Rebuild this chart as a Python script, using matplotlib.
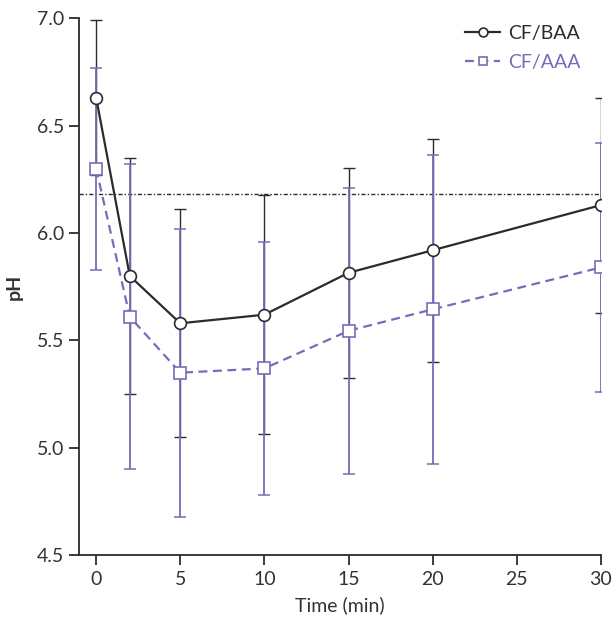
import matplotlib.pyplot as plt
import numpy as np

time = [0, 2, 5, 10, 15, 20, 30]
baa_mean = [6.63, 5.80, 5.58, 5.62, 5.815, 5.92, 6.13]
baa_sd = [0.36, 0.55, 0.53, 0.555, 0.49, 0.52, 0.50]
aaa_mean = [6.30, 5.61, 5.35, 5.37, 5.545, 5.645, 5.84]
aaa_sd = [0.47, 0.71, 0.67, 0.59, 0.665, 0.72, 0.58]
ref_ph = 6.18

black = '#2b2b2b'
purple = '#7b69b9'
plt.rcParams['font.family'] = ['Lato', 'DejaVu Sans']

fig = plt.figure(figsize=(6.15, 6.30), dpi=100)
ax = fig.add_axes([0.129, 0.1186, 0.848, 0.8524])

# error bars first, purple over black
ax.errorbar(time, baa_mean, yerr=baa_sd, fmt='none', ecolor=black,
            elinewidth=1.0, capsize=4.5, capthick=1.0, zorder=2)
ax.errorbar(time, aaa_mean, yerr=aaa_sd, fmt='none', ecolor=purple,
            elinewidth=1.3, capsize=4.5, capthick=1.1, zorder=3)

ax.axhline(ref_ph, color=black, lw=1, linestyle=(0, (3, 1.5, 1, 1.5)), zorder=1)

ax.plot(time, aaa_mean, color=purple, lw=1.6, linestyle=(0, (4, 2.5)),
        marker='s', ms=8, mfc='white', mec=purple, mew=1.2, label='CF/AAA', zorder=4)
ax.plot(time, baa_mean, color=black, lw=1.6, marker='o', ms=8.5,
        mfc='white', mec=black, mew=1.2, label='CF/BAA', zorder=5)

ax.set_xlim(-1, 30)
ax.set_ylim(4.5, 7.0)
ax.set_xticks([0, 5, 10, 15, 20, 25, 30])
ax.set_yticks(np.arange(4.5, 7.01, 0.5))
ax.yaxis.set_major_formatter(plt.FormatStrFormatter('%.1f'))
for s in ['top', 'right']:
    ax.spines[s].set_visible(False)
for s in ['left', 'bottom']:
    ax.spines[s].set_color(black)
    ax.spines[s].set_linewidth(1.3)
ax.tick_params(direction='out', length=7, width=1.3, color=black,
               labelsize=14, labelcolor='#333333', pad=4)

ax.set_xlabel('Time (min)', fontsize=14, color='#333333', labelpad=6)
ax.set_ylabel('pH', fontsize=14, fontweight='bold', color='#333333', labelpad=10)

h, l = ax.get_legend_handles_labels()
leg = ax.legend(h[::-1], l[::-1], loc='upper right', bbox_to_anchor=(0.995, 1.02),
                frameon=False, fontsize=14, handlelength=1.8, handletextpad=0.4,
                labelspacing=0.6, markerscale=0.75)
leg.get_texts()[0].set_color(black)
leg.get_texts()[1].set_color(purple)

fig.savefig('out.png', dpi=100)
